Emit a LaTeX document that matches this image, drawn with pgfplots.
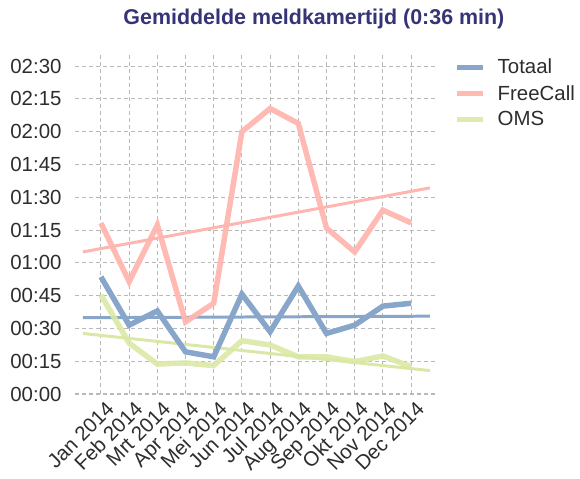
\documentclass[border=0pt]{standalone}
\usepackage{pgfplots}
\pgfplotsset{compat=1.18}
\usepackage{fontspec}
\setmainfont{Liberation Sans}

\definecolor{totaal}{RGB}{136,165,202}
\definecolor{freecall}{RGB}{255,182,176}
\definecolor{oms}{RGB}{218,232,165}
\definecolor{titel}{RGB}{52,52,118}
\definecolor{tick}{RGB}{45,45,45}

\begin{document}
\begin{tikzpicture}
\useasboundingbox (-75bp,-85bp) rectangle (505bp,394bp);
\begin{axis}[
  scale only axis, width=362bp, height=341bp,
  xmin=-0.92, xmax=11.92, ymin=0, ymax=156,
  xtick={0,...,11},
  xticklabels={Jan 2014,Feb 2014,Mrt 2014,Apr 2014,Mei 2014,Jun 2014,Jul 2014,Aug 2014,Sep 2014,Okt 2014,Nov 2014,Dec 2014},
  ytick={0,15,...,150},
  yticklabels={00:00,00:15,00:30,00:45,01:00,01:15,01:30,01:45,02:00,02:15,02:30},
  tick label style={font=\fontsize{20.5}{23}\selectfont, text=tick},
  xticklabel style={rotate=45, anchor=north east, inner sep=1pt, yshift=-6bp},
  yticklabel style={xshift=-10bp},
  axis line style={draw=none},
  major tick length=0pt,
  grid=major,
  major grid style={dashed, gray!55, line width=1.1pt, dash pattern=on 4pt off 3pt},
  title={\bfseries Gemiddelde meldkamertijd (0:36 min)},
  title style={at={(axis description cs:0.66,1)}, anchor=center, yshift=28bp, text=titel, font=\fontsize{21.5}{24}\selectfont},
  legend style={at={(1,1)}, anchor=north west, xshift=14bp, yshift=-2bp, draw=none, fill=none,
    font=\fontsize{20.5}{23}\selectfont, text=tick, cells={anchor=west}, row sep=6bp},
  legend image code/.code={\draw[#1, line width=5.5pt] (0bp,0bp) -- (26bp,0bp);},
  legend cell align=left,
  clip=false,
]
% trend lines
\addplot[freecall, line width=3pt, forget plot] coordinates {(-0.64,65) (11.67,94.3)};
\addplot[totaal, line width=3pt, forget plot] coordinates {(-0.64,34.9) (11.67,35.6)};
\addplot[oms, line width=3pt, forget plot] coordinates {(-0.64,27.7) (11.67,10.7)};
% data
\addplot[totaal, line width=5.5pt] coordinates {
 (0,53.6) (1,31.5) (2,38) (3,19.3) (4,17) (5,45.7) (6,28.5) (7,49.4) (8,27.7) (9,31.5) (10,40.2) (11,41.5)};
\addlegendentry{\hspace*{10bp}Totaal}
\addplot[freecall, line width=5.5pt, opacity=0.95] coordinates {
 (0,78.2) (1,51.4) (2,77.3) (3,33) (4,41.5) (5,120) (6,130.6) (7,123.8) (8,75.9) (9,65) (10,84.1) (11,78.3)};
\addlegendentry{\hspace*{10bp}FreeCall}
\addplot[oms, line width=5.5pt, opacity=0.9] coordinates {
 (0,45.3) (1,23.3) (2,13.7) (3,14.2) (4,13) (5,24.4) (6,22.4) (7,17) (8,17) (9,14.8) (10,17.4) (11,12.5)};
\addlegendentry{\hspace*{10bp}OMS}
\end{axis}
\end{tikzpicture}
\end{document}
